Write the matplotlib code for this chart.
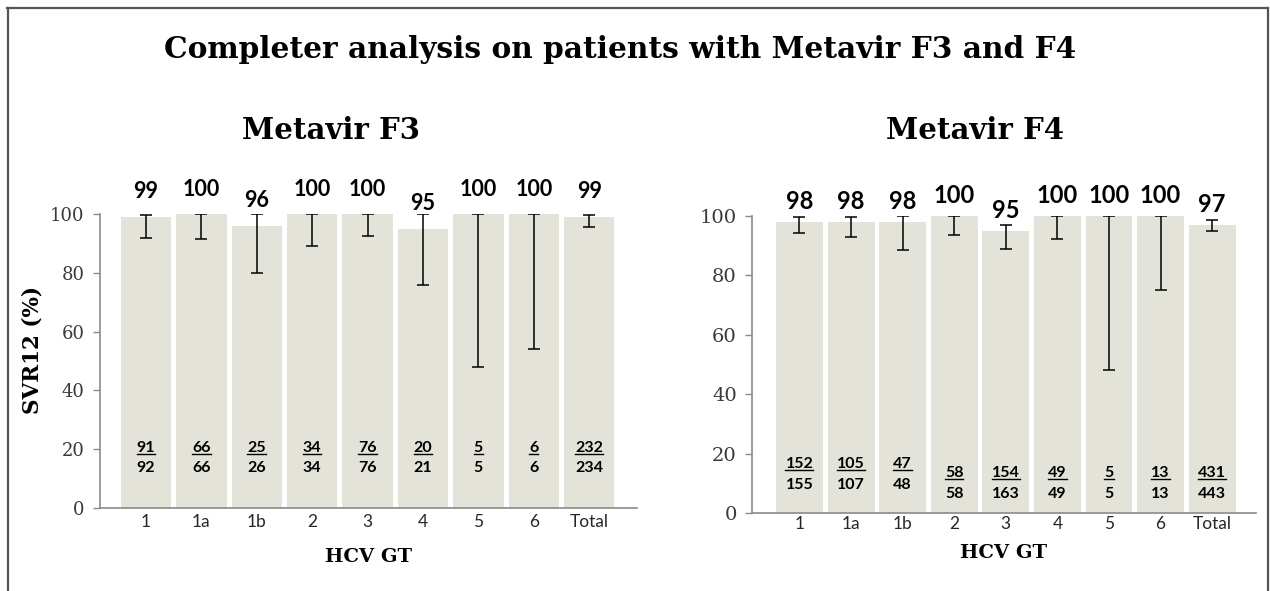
import matplotlib
matplotlib.use('Agg')
import matplotlib.pyplot as plt
from matplotlib.lines import Line2D
import numpy as np

# data
genotypes = ['1', '1a', '1b', '2', '3', '4', '5', '6', 'Total']

f3_svr = [99, 100, 96, 100, 100, 95, 100, 100, 99]
f3_ci_lo = [92, 91.5, 80, 89, 92.5, 76, 48, 54, 95.5]
f3_ci_hi = [99.7, 100, 100, 100, 100, 100, 100, 100, 99.5]
f3_resp = [91, 66, 25, 34, 76, 20, 5, 6, 232]
f3_total = [92, 66, 26, 34, 76, 21, 5, 6, 234]

f4_svr = [98, 98, 98, 100, 95, 100, 100, 100, 97]
f4_ci_lo = [94.2, 93, 88.6, 93.6, 88.8, 92.4, 48, 75, 94.8]
f4_ci_hi = [99.8, 99.8, 100, 100, 97, 100, 100, 100, 98.6]
f4_resp = [152, 105, 47, 58, 154, 49, 5, 13, 431]
f4_total = [155, 107, 48, 58, 163, 49, 5, 13, 443]

BAR = '#e4e3d9'
AXIS = '#8a8a8a'
SERIF = 'DejaVu Serif'
SANS = 'Lato'

fig = plt.figure(figsize=(12.7, 5.91), dpi=100)
numerators = []  # texts that get an underline once laid out


def draw_panel(ax, svr, lo, hi, resp, total, xlim, frac_y, val_size, val_off, ytick_size, xpad):
    x = np.arange(len(genotypes))
    svr = np.array(svr, dtype=float)
    yerr = [svr - np.array(lo), np.array(hi) - svr]
    ax.bar(x, svr, width=0.91, color=BAR, zorder=1)
    ax.errorbar(x, svr, yerr=yerr, fmt='none', ecolor='black',
                elinewidth=1.1, capsize=4.5, capthick=1.1, zorder=3)

    for i, v in enumerate(svr):
        ax.annotate(f'{int(v)}', (x[i], v), xytext=(0, val_off),
                    textcoords='offset points', ha='center', va='center',
                    fontsize=val_size, fontweight='bold', family=SANS,
                    annotation_clip=False)
        fy = frac_y[i] if hasattr(frac_y, '__len__') else frac_y
        num = ax.annotate(str(resp[i]), (x[i], fy), xytext=(0, 7.5),
                          textcoords='offset points', ha='center', va='center',
                          fontsize=11.5, fontweight='bold', family=SANS)
        ax.annotate(str(total[i]), (x[i], fy), xytext=(0, -7.5),
                    textcoords='offset points', ha='center', va='center',
                    fontsize=11.5, fontweight='bold', family=SANS)
        numerators.append(num)

    ax.set_xlim(*xlim)
    ax.set_ylim(0, 100)
    ax.set_yticks(range(0, 101, 20))
    ax.set_xticks(x)
    ax.set_xticklabels(genotypes, family=SANS, fontsize=12.5, color='#262626')
    for lab in ax.get_yticklabels():
        lab.set_family(SERIF)
        lab.set_fontsize(ytick_size)
        lab.set_color('#3a3a3a')
    ax.tick_params(axis='x', length=0, pad=xpad)
    ax.tick_params(axis='y', length=5, width=1, color=AXIS, pad=6)
    for s in ['top', 'right']:
        ax.spines[s].set_visible(False)
    for s in ['left', 'bottom']:
        ax.spines[s].set_color(AXIS)
        ax.spines[s].set_linewidth(1.2)
    ax.set_facecolor('none')


ax1 = fig.add_axes([0.0787, 0.1404, 0.4228, 0.4975])
draw_panel(ax1, f3_svr, f3_ci_lo, f3_ci_hi, f3_resp, f3_total,
           (-0.83, 8.86), 17, 15.5, 18, 13, 4)

ax2 = fig.add_axes([0.5921, 0.132, 0.3969, 0.5025])
draw_panel(ax2, f4_svr, f4_ci_lo, f4_ci_hi, f4_resp, f4_total,
           (-0.92, 8.85), [13, 13, 13, 10, 10, 10, 10, 10, 10], 17, 15, 14, 2)

ax1.set_ylabel('SVR12 (%)', family=SERIF, fontweight='bold', fontsize=15.5, va='center')
ax1.yaxis.set_label_coords(-0.125, 0.537)

fig.text(0.488, 0.917, 'Completer analysis on patients with Metavir F3 and F4',
         ha='center', va='center', family=SERIF, fontweight='bold', fontsize=21.3)
fig.text(331 / 1270, 1 - 130 / 591, 'Metavir F3', ha='center', va='center',
         family=SERIF, fontweight='bold', fontsize=21)
fig.text(975 / 1270, 1 - 130 / 591, 'Metavir F4', ha='center', va='center',
         family=SERIF, fontweight='bold', fontsize=21)
fig.text(369 / 1270, 1 - 557 / 591, 'HCV GT', ha='center', va='center',
         family=SERIF, fontweight='bold', fontsize=14)
fig.text(1004 / 1270, 1 - 553 / 591, 'HCV GT', ha='center', va='center',
         family=SERIF, fontweight='bold', fontsize=14)

# outer frame (top, left, right)
frame = dict(color='#555555', linewidth=1.6, transform=fig.transFigure)
fig.add_artist(Line2D([7 / 1270, 1268 / 1270], [1 - 7.5 / 591] * 2, **frame))
fig.add_artist(Line2D([7.5 / 1270] * 2, [0, 1 - 7.5 / 591], **frame))
fig.add_artist(Line2D([1268 / 1270] * 2, [0, 1 - 7.5 / 591], **frame))

# underline the responder counts
fig.canvas.draw()
inv = fig.transFigure.inverted()
for t in numerators:
    bb = t.get_window_extent()
    (x0, y0), (x1, _) = inv.transform([(bb.x0, bb.y0 + 1), (bb.x1, bb.y0 + 1)])
    fig.add_artist(Line2D([x0, x1], [y0, y0], color='black', linewidth=1.0,
                          transform=fig.transFigure))

fig.savefig('out.png', dpi=100, facecolor='white')
